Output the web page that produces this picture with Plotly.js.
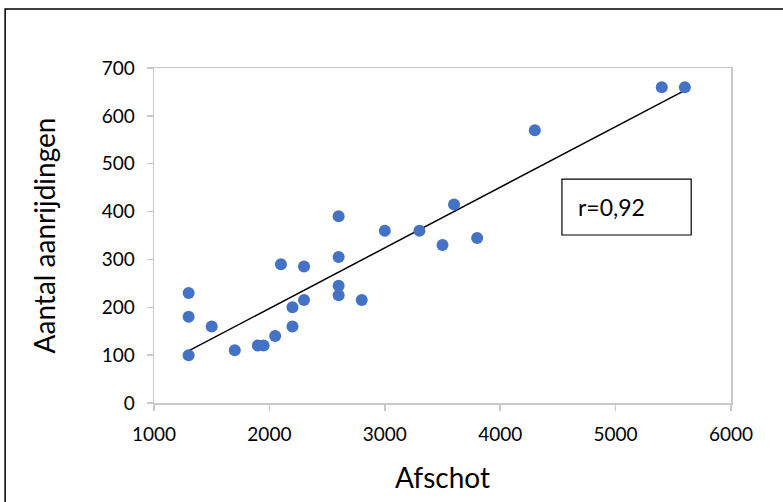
<!DOCTYPE html>
<html>
<head>
<meta charset="utf-8">
<script src="https://cdn.plot.ly/plotly-3.0.1.min.js"></script>
<style>html,body{margin:0;padding:0;background:#fff;}#chart{width:783px;height:502px;}</style>
</head>
<body>
<div id="chart"></div>
<script>
const afschot = [1300,1300,1300,1500,1700,1900,1950,2050,2100,2200,2200,2300,2300,2600,2600,2600,2600,2800,3000,3300,3500,3600,3800,4300,5400,5600];
const aanrijdingen = [100,180,230,160,110,120,120,140,290,160,200,285,215,390,305,245,225,215,360,360,330,415,345,570,660,660];
const xTicks = [1000,2000,3000,4000,5000,6000];
const yTicks = [0,100,200,300,400,500,600,700];
const rLabel = "r=0,92";

// least-squares trend line from the data
const n = afschot.length;
const mx = afschot.reduce((a,b)=>a+b,0)/n;
const my = aanrijdingen.reduce((a,b)=>a+b,0)/n;
let sxy=0, sxx=0;
for (let i=0;i<n;i++){ sxy+=(afschot[i]-mx)*(aanrijdingen[i]-my); sxx+=(afschot[i]-mx)**2; }
const slope = sxy/sxx, icpt = my - slope*mx;
const xmin = Math.min(...afschot), xmax = Math.max(...afschot);
const trendX = [xmin, xmax];
const trendY = trendX.map(x => icpt + slope*x);

const font = "Lato, 'Open Sans', sans-serif";
const axisGray = '#c9c9c9';

const data = [
  {x: trendX, y: trendY, mode:'lines', line:{color:'#000', width:1.5}, hoverinfo:'skip', showlegend:false},
  {x: afschot, y: aanrijdingen, mode:'markers', type:'scatter',
   marker:{color:'#4472C4', size:12}, showlegend:false}
];

const layout = {
  width:783, height:502,
  margin:{l:154, r:52, t:68, b:99},
  paper_bgcolor:'#fff', plot_bgcolor:'#fff',
  font:{family:font, color:'#000', size:19},
  xaxis:{range:[1000,6000], tickvals:xTicks, ticktext:xTicks.map(String),
    showgrid:false, zeroline:false, showline:true, mirror:true, linecolor:axisGray, linewidth:1.5,
    ticks:'outside', ticklen:6, tickcolor:axisGray, tickwidth:1.5, ticklabelstandoff:8,
    tickfont:{size:19, family:font},
    title:{text:'Afschot', font:{size:28, family:font}, standoff:24}},
  yaxis:{range:[0,700], tickvals:yTicks, ticktext:yTicks.map(String),
    showgrid:false, zeroline:false, showline:true, mirror:true, linecolor:axisGray, linewidth:1.5,
    ticks:'outside', ticklen:6, tickcolor:axisGray, tickwidth:1.5, ticklabelstandoff:8,
    tickfont:{size:19, family:font},
    title:{text:'Aantal aanrijdingen', font:{size:28, family:font}, standoff:38}},
  shapes:[
    {type:'rect', xref:'paper', yref:'paper', x0:-0.258, x1:1.12, y0:-0.35, y1:1.176,
     line:{color:'#000', width:1.5}, fillcolor:'rgba(0,0,0,0)', layer:'below'},
    {type:'rect', xref:'x', yref:'y', x0:4535, x1:5655, y0:351, y1:468,
     line:{color:'#000', width:1.2}, fillcolor:'#fff'}
  ],
  annotations:[
    {xref:'x', yref:'y', x:4660, y:410, xanchor:'left', yanchor:'middle', text:rLabel,
     showarrow:false, font:{size:23, family:font}}
  ]
};

Plotly.newPlot('chart', data, layout, {displayModeBar:false, staticPlot:true});
</script>
</body>
</html>
